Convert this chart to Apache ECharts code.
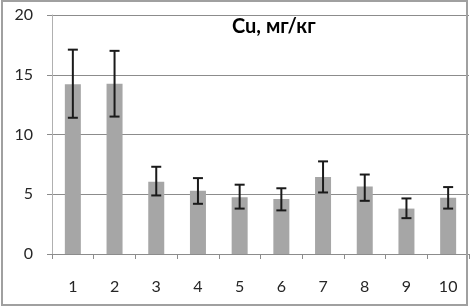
<!DOCTYPE html>
<html>
<head>
<meta charset="utf-8">
<script src="https://cdn.jsdelivr.net/npm/echarts@6/dist/echarts.min.js"></script>
<style>
html,body{margin:0;padding:0;background:#fff;}
#c{width:470px;height:308px;}
</style>
</head>
<body>
<div id="c"></div>
<script>
const categories = ['1','2','3','4','5','6','7','8','9','10'];
const values = [14.2, 14.25, 6.05, 5.3, 4.75, 4.6, 6.45, 5.65, 3.8, 4.7];
const errLow = [11.4, 11.5, 4.9, 4.2, 3.8, 3.65, 5.15, 4.45, 3.0, 3.8];
const errHigh = [17.1, 17.0, 7.3, 6.35, 5.8, 5.5, 7.75, 6.65, 4.65, 5.6];
const yTicks = [0, 5, 10, 15, 20];
const titleText = 'Cu, мг/кг';

const chart = echarts.init(document.getElementById('c'), null, {renderer: 'canvas'});
const errData = categories.map((c, i) => [i, errLow[i], errHigh[i]]);
chart.setOption({
  animation: false,
  backgroundColor: '#fff',
  title: {
    text: titleText,
    left: 227, top: 12,
    textStyle: {fontFamily: 'Lato', fontWeight: 'bold', fontSize: 20, color: '#000'}
  },
  graphic: [{
    type: 'rect', silent: true, z: 100,
    shape: {x: 2, y: 1, width: 465, height: 304},
    style: {fill: 'none', stroke: '#a0a0a0', lineWidth: 2}
  }],
  grid: {left: 52, right: 1, top: 15, bottom: 54, containLabel: false},
  xAxis: {
    type: 'category', data: categories,
    axisLine: {lineStyle: {color: '#8c8c8c', width: 1}},
    axisTick: {show: true, length: 5, lineStyle: {color: '#8c8c8c'}},
    axisLabel: {margin: 25, fontFamily: 'Lato', fontSize: 16, color: '#262626'}
  },
  yAxis: {
    type: 'value', min: yTicks[0], max: yTicks[yTicks.length-1], interval: 5,
    axisLine: {show: true, lineStyle: {color: '#b0b0b0'}},
    axisTick: {show: true, length: 5, lineStyle: {color: '#8c8c8c'}},
    splitLine: {lineStyle: {color: '#8c8c8c', width: 1}},
    axisLabel: {margin: 19, fontFamily: 'Lato', fontSize: 16, color: '#262626'}
  },
  series: [{
    type: 'bar', data: values, barWidth: 16,
    itemStyle: {color: '#a6a6a6'}
  }, {
    type: 'custom', data: errData, z: 10,
    renderItem: function (params, api) {
      const x = api.value(0);
      const lo = api.coord([x, api.value(1)]);
      const hi = api.coord([x, api.value(2)]);
      const hw = 5;
      const st = {stroke: '#1a1a1a', lineWidth: 2, fill: 'none'};
      return {type: 'group', children: [
        {type: 'line', shape: {x1: hi[0], y1: hi[1], x2: lo[0], y2: lo[1]}, style: st},
        {type: 'line', shape: {x1: hi[0]-hw, y1: hi[1], x2: hi[0]+hw, y2: hi[1]}, style: st},
        {type: 'line', shape: {x1: lo[0]-hw, y1: lo[1], x2: lo[0]+hw, y2: lo[1]}, style: st}
      ]};
    }
  }]
});
</script>
</body>
</html>
